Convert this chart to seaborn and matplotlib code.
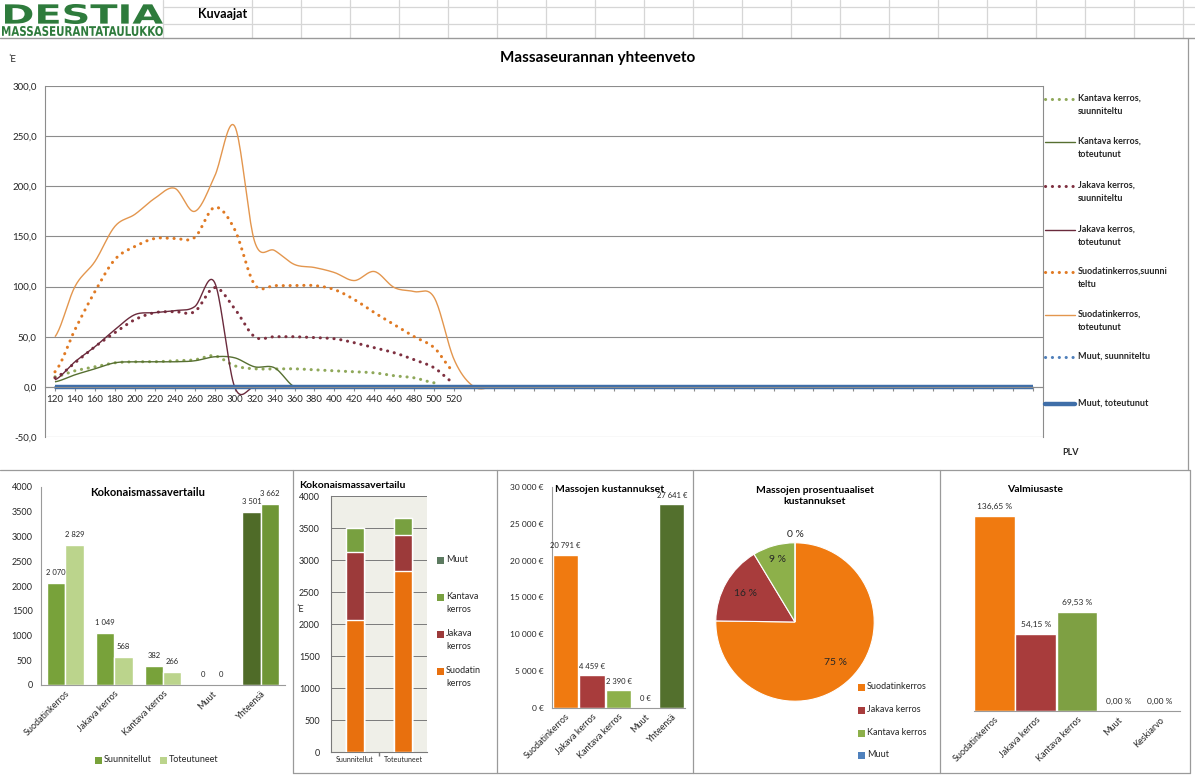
import numpy as np
import pandas as pd
import matplotlib
matplotlib.use("Agg")
import matplotlib.pyplot as plt
import seaborn as sns
from matplotlib.lines import Line2D
from matplotlib.patches import Rectangle, PathPatch
from matplotlib.textpath import TextPath
from matplotlib.font_manager import FontProperties
from matplotlib.transforms import Affine2D

# ---------------- data ----------------
# main chart: masses per PLV station (m3)
plv = list(range(120, 1101, 20))
plv_labels = [str(v) if v <= 520 else "" for v in plv]

kantava_suun = [10, 16, 20, 24, 25, 25, 26, 27, 31, 21, 18, 18, 18, 17, 16, 15, 14, 11, 9, 4]
kantava_tot = [5, 12, 18, 24, 25, 25, 25, 26, 30, 29, 20, 19, 0]
jakava_suun = [9, 24, 40, 54, 67, 74, 75, 75, 99, 78, 50, 50, 50, 49, 48, 44, 39, 34, 27, 19, 4]
jakava_tot = [7, 25, 40, 57, 72, 74, 76, 80, 104, 0]
suod_suun = [15, 57, 95, 127, 140, 148, 148, 149, 179, 157, 102, 101, 101, 101, 97, 87, 74, 62, 50, 39, 15]
suod_tot = [50, 100, 125, 160, 172, 188, 198, 175, 210, 260, 145, 136, 122, 119, 114, 106, 115, 99, 95, 89, 27, 0]
muut_suun = [0] * len(plv)
muut_tot = [0] * len(plv)

# summary panels
layers = ["Suodatinkerros", "Jakava kerros", "Kantava kerros", "Muut"]
mass_cats = layers + ["Yhteensä"]
mass_planned = [2070, 1049, 382, 0, 3501]
mass_actual = [2829, 568, 266, 0, 3662]
stack_groups = ["Suunnitellut", "Toteutuneet"]
costs = [20791, 4459, 2390, 0, 27641]
ready_cats = layers + ["Keskiarvo"]
readiness = [136.65, 54.15, 69.53, 0.00, 0.00]

# ---------------- figure helpers ----------------
sns.set_theme(style="white")
plt.rcParams["font.family"] = ["Lato", "DejaVu Sans"]
TXT = "#262626"

W, H = 1195, 776
fig = plt.figure(figsize=(W / 100, H / 100), dpi=100)
fig.patch.set_facecolor("white")


def fx(x):
    return x / W


def fy(y):
    return 1 - y / H


def rect(x0, y0, x1, y1):
    return [fx(x0), fy(y1), (x1 - x0) / W, (y1 - y0) / H]


def hline(x0, x1, y, color="#9A9A9A", lw=0.9):
    fig.add_artist(Line2D([fx(x0), fx(x1)], [fy(y), fy(y)], color=color, lw=lw,
                          transform=fig.transFigure))


def vline(x, y0, y1, color="#9A9A9A", lw=0.9):
    fig.add_artist(Line2D([fx(x), fx(x)], [fy(y0), fy(y1)], color=color, lw=lw,
                          transform=fig.transFigure))


def ftext(x, y, s, **kw):
    kw.setdefault("color", TXT)
    return fig.text(fx(x), fy(y), s, **kw)


def fit_text(s, x0, y0, x1, y1, color):
    tp = TextPath((0, 0), s, size=10, prop=FontProperties(family="DejaVu Sans", weight="bold"))
    bb = tp.get_extents()
    sx = (x1 - x0) / bb.width / W
    sy = (y1 - y0) / bb.height / H
    tr = Affine2D().translate(-bb.x0, -bb.y0).scale(sx, sy).translate(fx(x0), fy(y1)) + fig.transFigure
    fig.add_artist(PathPatch(tp, transform=tr, fc=color, ec="none"))


def box_entry(x, y, label, color, size=6.5):
    fig.add_artist(Rectangle((fx(x), fy(y + 3.5)), 7 / W, 7 / H, transform=fig.transFigure,
                             fc=color, ec="none"))
    ftext(x + 9, y - 5, label, ha="left", va="top", fontsize=size, linespacing=1.55)


def smooth(vals, steps=20):
    """Cardinal (Catmull-Rom) curve through the points, like a smoothed spreadsheet line."""
    y = np.asarray(vals, float)
    n = len(y)
    t = np.linspace(0, 1, steps, endpoint=False)
    h00 = 2 * t**3 - 3 * t**2 + 1
    h10 = t**3 - 2 * t**2 + t
    h01 = -2 * t**3 + 3 * t**2
    h11 = t**3 - t**2
    xs, ys = [], []
    for i in range(n - 1):
        yp = y[i - 1] if i > 0 else y[i]
        yn = y[i + 2] if i + 2 < n else y[i + 1]
        m1 = (y[i + 1] - yp) / 2
        m2 = (yn - y[i]) / 2
        ys.append(h00 * y[i] + h10 * m1 + h01 * y[i + 1] + h11 * m2)
        xs.append(i + t)
    xs.append([n - 1])
    ys.append([y[-1]])
    return np.concatenate(xs), np.concatenate(ys)


def padded(vals):
    return list(vals) + [0] * (len(plv) - len(vals))


# ---------------- header ----------------
grid_c = "#D6D6D6"
vline(163, 0, 38, grid_c)
for gx in range(252, W, 49):
    vline(gx, 0, 38, grid_c)
hline(163, W, 7, grid_c)
hline(163, W, 24, grid_c)
hline(0, W, 38, "#9A9A9A", 1.0)
fit_text("DESTIA", 5, 4, 163, 24, "#2E7B3C")
fit_text("MASSASEURANTATAULUKKO", 2, 26, 163, 36, "#2E7B3C")
ftext(198, 14, "Kuvaajat", ha="left", va="center", fontsize=9, fontweight="bold", color="black")

# frames around the charts
vline(1188, 38, 470)
hline(0, 1190, 470)
for bx in (293, 497, 693, 940, 1190):
    vline(bx, 470, 773)
hline(293, 1190, 773)

# ---------------- main chart ----------------
ftext(598, 58, "Massaseurannan yhteenveto", ha="center", va="center", fontsize=11,
      fontweight="bold", color="black")
ftext(8, 60, "ˈE", ha="left", va="center", fontsize=7, color=TXT)

ax = fig.add_axes(rect(45, 86, 1043, 437))
DOT = (0, (0.05, 2.2))
main_series = [
    ("Kantava kerros,\nsuunniteltu", kantava_suun, "#8FA85A", DOT, 2.2),
    ("Kantava kerros,\ntoteutunut", padded(kantava_tot), "#566F31", "-", 1.0),
    ("Jakava kerros,\nsuunniteltu", jakava_suun, "#7E3040", DOT, 2.2),
    ("Jakava kerros,\ntoteutunut", padded(jakava_tot), "#6A2A3C", "-", 1.0),
    ("Suodatinkerros,suunni\nteltu", suod_suun, "#E07A24", DOT, 2.2),
    ("Suodatinkerros,\ntoteutunut", padded(suod_tot), "#E3964E", "-", 1.0),
    ("Muut, suunniteltu", muut_suun, "#4F7FBA", DOT, 2.2),
    ("Muut, toteutunut", muut_tot, "#3F6EA8", "-", 3.2),
]
for label, vals, color, ls, lw in main_series:
    xs, ys = smooth(vals)
    sns.lineplot(x=xs, y=ys, ax=ax, color=color, lw=lw, linestyle=ls,
                 dash_capstyle="round", solid_capstyle="butt", sort=False, estimator=None)

ax.set_xlim(-0.5, len(plv) - 0.5)
ax.set_ylim(-50, 300)
yt = list(range(-50, 301, 50))
ax.set_yticks(yt)
ax.set_yticklabels([f"{v:.1f}".replace(".", ",") for v in yt])
ax.set_xticks(range(len(plv)))
ax.set_xticklabels(plv_labels)
ax.grid(axis="y", color="#8C8C8C", lw=0.8)
ax.grid(axis="x", visible=False)
ax.set_xlabel("")
ax.set_ylabel("")
ax.spines["bottom"].set_position(("data", 0))
ax.spines["top"].set_visible(False)
for s in ("left", "right", "bottom"):
    ax.spines[s].set_color("#8C8C8C")
    ax.spines[s].set_linewidth(0.8)
ax.tick_params(axis="x", length=3, width=0.8, color="#8C8C8C", labelsize=7, pad=3,
               direction="out", labelcolor=TXT, bottom=True)
ax.tick_params(axis="y", length=0, labelsize=7, pad=6, labelcolor=TXT)
ax.set_facecolor("white")

# legend of the main chart
leg_y = [99, 142, 186, 230, 272, 315, 357, 404]
for (label, vals, color, ls, lw), ly in zip(main_series, leg_y):
    fig.add_artist(Line2D([fx(1045), fx(1075)], [fy(ly), fy(ly)], color=color, lw=lw,
                          linestyle=ls, dash_capstyle="round", transform=fig.transFigure))
    ftext(1078, ly - 5, label, ha="left", va="top", fontsize=6.5, fontweight="bold",
          linespacing=1.6)
ftext(1062, 452, "PLV", ha="left", va="center", fontsize=6.5, fontweight="bold")

# ---------------- panel 1: grouped mass comparison ----------------
ax1 = fig.add_axes(rect(41, 487, 285, 685))
df1 = pd.DataFrame({
    "kerros": mass_cats * 2,
    "sarja": [stack_groups[0]] * len(mass_cats) + [stack_groups[1]] * len(mass_cats),
    "massa": mass_planned + mass_actual,
})
c_plan, c_act = "#78A23A", "#BBD48C"
sns.barplot(data=df1, x="kerros", y="massa", hue="sarja", palette=[c_plan, c_act],
            width=0.75, saturation=1, legend=False, ax=ax1)
for cont, vals, dark in zip(ax1.containers, (mass_planned, mass_actual), ("#4F6B28", "#6F9636")):
    cont[len(mass_cats) - 1].set_facecolor(dark)
    ax1.bar_label(cont, labels=[f"{v:,}".replace(",", " ") for v in vals], fontsize=5.5,
                  padding=5, color=TXT)
ax1.set_ylim(0, 4000)
ax1.set_yticks(range(0, 4001, 500))
ax1.set_xlabel("")
ax1.set_ylabel("")
ax1.tick_params(axis="y", length=0, labelsize=6.5, pad=6, labelcolor=TXT)
ax1.tick_params(axis="x", length=0, labelsize=6.5, pad=3, labelcolor=TXT)
plt.setp(ax1.get_xticklabels(), rotation=45, ha="right", rotation_mode="anchor")
sns.despine(ax=ax1)
for s in ("left", "bottom"):
    ax1.spines[s].set_color("#9A9A9A")
    ax1.spines[s].set_linewidth(0.8)
ftext(148, 492, "Kokonaismassavertailu", ha="center", va="center", fontsize=8, fontweight="bold",
      color="black")
box_entry(95, 760, "Suunnitellut", c_plan)
box_entry(160, 760, "Toteutuneet", c_act)

# ---------------- panel 2: stacked mass comparison ----------------
stack_colors = ["#E8700E", "#9C3A3A", "#78A040", "#5C7A60"]
ax2 = fig.add_axes(rect(331, 496, 427, 752))
ax2.set_facecolor("#EFEFE8")
cum_plan = np.cumsum(mass_planned[:4])
cum_act = np.cumsum(mass_actual[:4])
for i in reversed(range(len(layers))):
    sns.barplot(x=stack_groups, y=[cum_plan[i], cum_act[i]], color=stack_colors[i], width=0.38,
                saturation=1, ax=ax2, zorder=3)
ax2.set_ylim(0, 4000)
ax2.set_yticks(range(0, 4001, 500))
ax2.grid(axis="y", color="#7A7A7A", lw=0.7)
ax2.set_axisbelow(True)
ax2.set_xlabel("")
ax2.set_ylabel("")
ax2.set_xticks([0.5], minor=True)
ax2.tick_params(axis="x", which="minor", length=3, color="#7A7A7A", bottom=True)
ax2.tick_params(axis="x", which="major", length=0, labelsize=5, pad=3, labelcolor=TXT)
ax2.tick_params(axis="y", length=0, labelsize=6.5, pad=8, labelcolor=TXT)
for s in ("top", "right"):
    ax2.spines[s].set_visible(False)
for s in ("left", "bottom"):
    ax2.spines[s].set_color("#7A7A7A")
    ax2.spines[s].set_linewidth(0.8)
ftext(299, 485, "Kokonaismassavertailu", ha="left", va="center", fontsize=7.5, fontweight="bold",
      color="black")
ftext(296, 609, "ˈE", ha="left", va="center", fontsize=6.5)
stack_labels = ["Suodatin\nkerros", "Jakava\nkerros", "Kantava\nkerros", "Muut"]
for lab, col, ly in zip(stack_labels[::-1], stack_colors[::-1], [560, 597, 634, 671]):
    box_entry(437, ly, lab, col)

# ---------------- panel 3: costs ----------------
cost_colors = ["#F07A10", "#A83C3C", "#8DB04A", "#4F81BD", "#53702D"]
ax3 = fig.add_axes(rect(552, 487, 685, 708))
sns.barplot(x=mass_cats, y=costs, hue=mass_cats, palette=cost_colors, legend=False,
            width=0.96, saturation=1, ax=ax3)
for cont, v in zip(ax3.containers, costs):
    ax3.bar_label(cont, labels=[f"{v:,} €".replace(",", " ")], fontsize=5.5, padding=4, color=TXT)
ax3.set_ylim(0, 30000)
ax3.set_yticks(range(0, 30001, 5000))
ax3.set_yticklabels([f"{v:,} €".replace(",", " ") for v in range(0, 30001, 5000)])
ax3.set_xlabel("")
ax3.set_ylabel("")
ax3.tick_params(axis="y", length=0, labelsize=6, pad=6, labelcolor=TXT)
ax3.tick_params(axis="x", length=0, labelsize=6.5, pad=3, labelcolor=TXT)
plt.setp(ax3.get_xticklabels(), rotation=45, ha="right", rotation_mode="anchor")
sns.despine(ax=ax3)
for s in ("left", "bottom"):
    ax3.spines[s].set_color("#9A9A9A")
    ax3.spines[s].set_linewidth(0.8)
ftext(555, 489, "Massojen kustannukset", ha="left", va="center", fontsize=7.5, fontweight="bold",
      color="black")

# ---------------- panel 4: cost shares ----------------
pie_vals = costs[:4]
pie_colors = ["#F07A10", "#A83C3C", "#8DB04A", "#4F81BD"]
ax4 = fig.add_axes(rect(715, 542, 875, 702))
wedges, _ = ax4.pie(pie_vals, colors=pie_colors, startangle=90, counterclock=False,
                    wedgeprops=dict(edgecolor="white", linewidth=0.8))
ax4.set_xlim(-1.01, 1.01)
ax4.set_ylim(-1.01, 1.01)
total = sum(pie_vals)
label_r = [0.72, 0.72, 0.82, 1.1]
for w, v, r in zip(wedges, pie_vals, label_r):
    ang = np.deg2rad((w.theta1 + w.theta2) / 2)
    ax4.text(r * np.cos(ang), r * np.sin(ang), f"{round(100 * v / total):.0f} %",
             ha="center", va="center", fontsize=7.5, color=TXT, clip_on=False)
ftext(815, 486, "Massojen prosentuaaliset\nkustannukset", ha="center", va="top", fontsize=7.5,
      fontweight="bold", color="black", linespacing=1.35)
for lab, col, ly in zip(layers, pie_colors, [687, 710, 733, 755]):
    box_entry(858, ly, lab, col)

# ---------------- panel 5: completion ----------------
ready_colors = ["#F07A10", "#A83C3C", "#7EA043", "#4F81BD", "#53702D"]
ax5 = fig.add_axes(rect(974, 497, 1180, 711))
sns.barplot(x=ready_cats, y=readiness, hue=ready_cats, palette=ready_colors, legend=False,
            width=0.99, saturation=1, ax=ax5)
for cont, v in zip(ax5.containers, readiness):
    ax5.bar_label(cont, labels=[f"{v:.2f} %".replace(".", ",")], fontsize=6, padding=4, color=TXT)
ax5.set_ylim(0, 150)
ax5.set_yticks([])
ax5.set_xlabel("")
ax5.set_ylabel("")
ax5.tick_params(axis="x", length=0, labelsize=6.5, pad=3, labelcolor=TXT)
plt.setp(ax5.get_xticklabels(), rotation=45, ha="right", rotation_mode="anchor")
for s in ("top", "right", "left"):
    ax5.spines[s].set_visible(False)
ax5.spines["bottom"].set_color("#9A9A9A")
ax5.spines["bottom"].set_linewidth(0.8)
ftext(1035, 490, "Valmiusaste", ha="center", va="center", fontsize=7.5, fontweight="bold",
      color="black")

fig.savefig("out.png", dpi=100, facecolor="white")
